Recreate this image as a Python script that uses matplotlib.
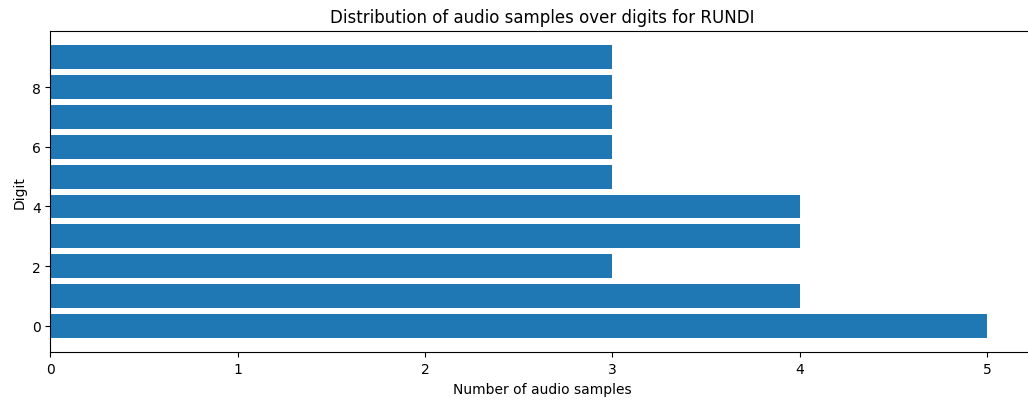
import matplotlib
matplotlib.use("Agg")
import matplotlib.pyplot as plt

digits = [0, 1, 2, 3, 4, 5, 6, 7, 8, 9]
counts = [5, 4, 3, 4, 4, 3, 3, 3, 3, 3]

fig = plt.figure(figsize=(10.28, 4.06), dpi=100)
ax = fig.add_axes([0.049, 0.1298, 0.9566, 0.792])

ax.barh(digits, counts, color="#1f77b4")
ax.set_title("Distribution of audio samples over digits for RUNDI")
ax.set_xlabel("Number of audio samples")
ax.set_ylabel("Digit")

fig.savefig("out.png", dpi=100)
